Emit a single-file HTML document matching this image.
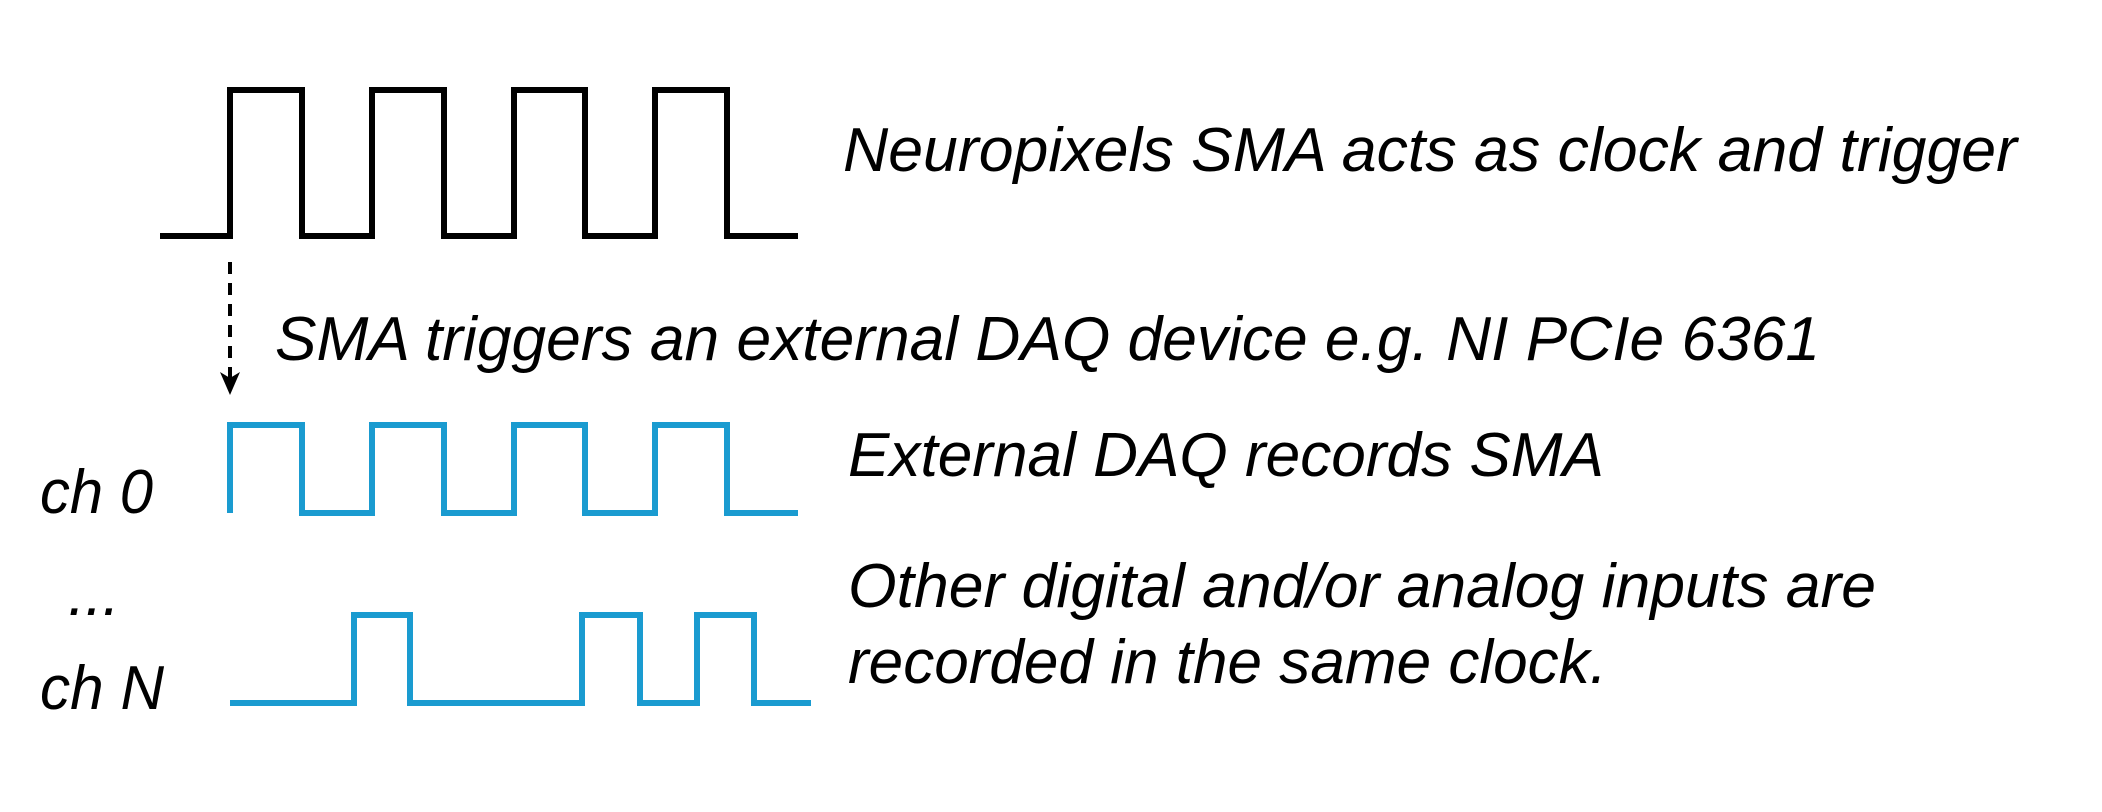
<!DOCTYPE html>
<html><head><meta charset="utf-8"><style>
html,body{margin:0;padding:0;background:#fff;}
svg{display:block;}
text{font-family:"Liberation Sans",Arial,sans-serif;font-style:italic;font-size:62px;fill:#000;}
</style></head><body>
<svg width="2102" height="812" viewBox="0 0 2102 812" xmlns="http://www.w3.org/2000/svg">
<polyline fill="none" stroke="#000" stroke-width="6" stroke-linejoin="miter" stroke-linecap="butt"
 points="160,236 230,236 230,90 302,90 302,236 372,236 372,90 444,90 444,236 514,236 514,90 585,90 585,236 655,236 655,90 727,90 727,236 798,236"/>
<line x1="230" y1="262" x2="230" y2="378" stroke="#000" stroke-width="4" stroke-dasharray="12,9"/>
<polygon points="220,372 230,378 240,372 230,395" fill="#000"/>
<polyline fill="none" stroke="#1a9bd0" stroke-width="6"
 points="230,513 230,425 302,425 302,513 372,513 372,425 444,425 444,513 514,513 514,425 585,425 585,513 655,513 655,425 727,425 727,513 798,513"/>
<polyline fill="none" stroke="#1a9bd0" stroke-width="6"
 points="230,703 354,703 354,615 410,615 410,703 582,703 582,615 640,615 640,703 697,703 697,615 754,615 754,703 811,703"/>
<text x="843" y="171" textLength="1174" lengthAdjust="spacingAndGlyphs">Neuropixels SMA acts as clock and trigger</text>
<text x="275" y="360" textLength="1545" lengthAdjust="spacingAndGlyphs">SMA triggers an external DAQ device e.g. NI PCIe 6361</text>
<text x="848" y="476" textLength="756" lengthAdjust="spacingAndGlyphs">External DAQ records SMA</text>
<text x="848" y="607" textLength="1028" lengthAdjust="spacingAndGlyphs">Other digital and/or analog inputs are</text>
<text x="848" y="683" textLength="759" lengthAdjust="spacingAndGlyphs">recorded in the same clock.</text>
<text x="40" y="513" textLength="113" lengthAdjust="spacingAndGlyphs">ch 0</text>
<text x="68" y="615">...</text>
<text x="40" y="709" textLength="124" lengthAdjust="spacingAndGlyphs">ch N</text>
</svg>
</body></html>
